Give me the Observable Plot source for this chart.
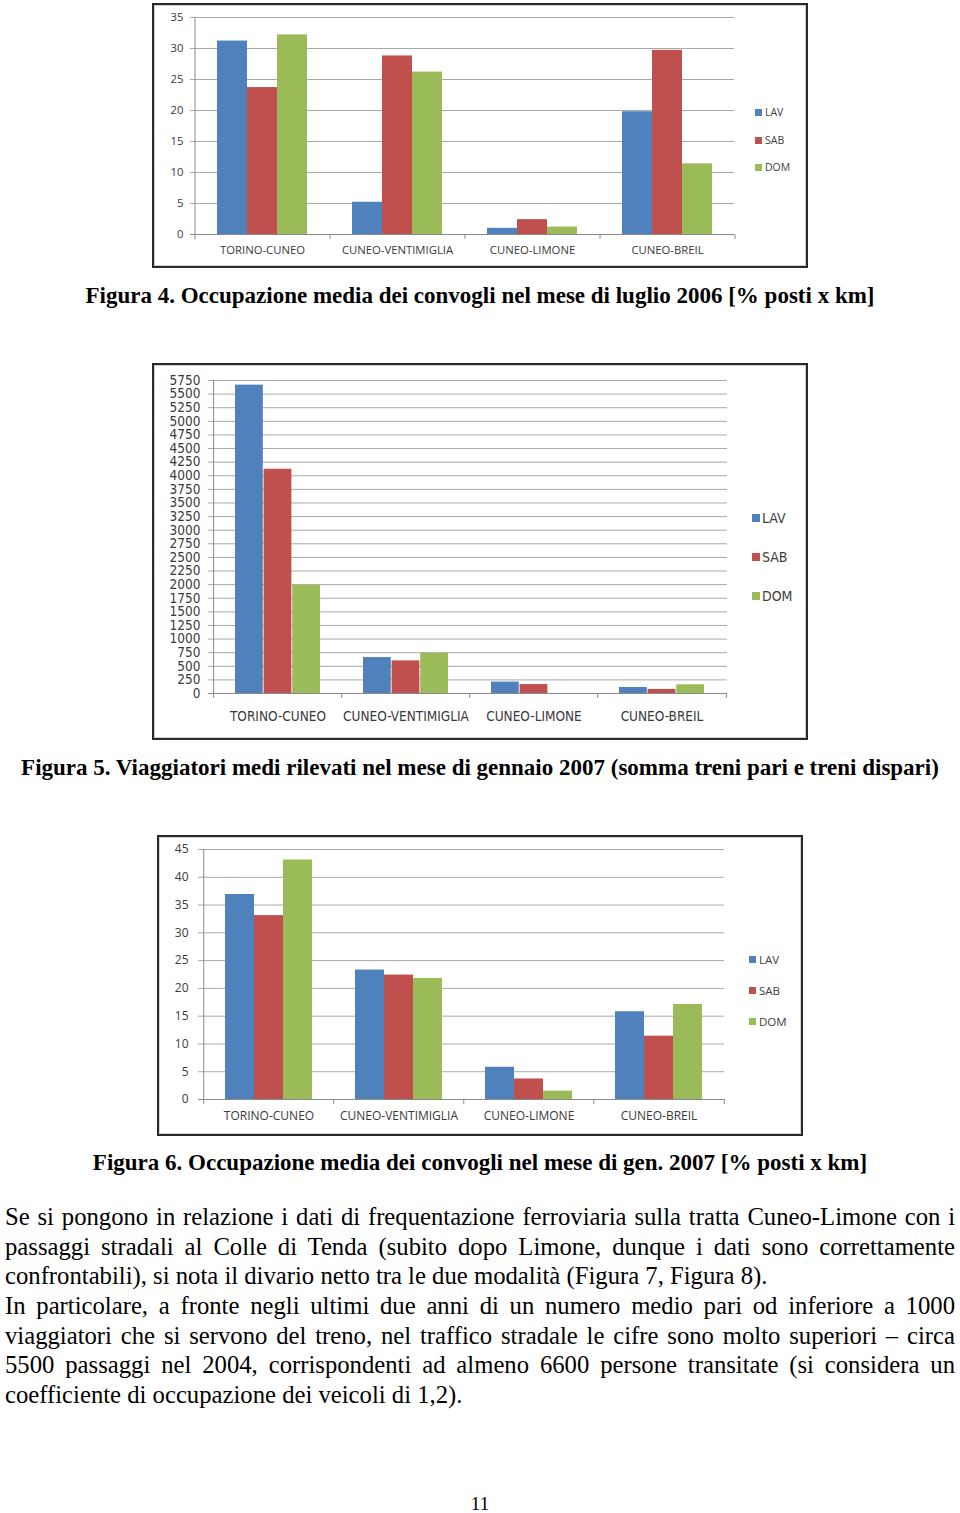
<!DOCTYPE html>
<html>
<head>
<meta charset="utf-8">
<script src="https://cdn.jsdelivr.net/npm/d3@7"></script>
<script src="https://cdn.jsdelivr.net/npm/@observablehq/plot@0.6"></script>
<style>
  body { margin: 0; background: #fff; }
  #page { position: relative; width: 960px; height: 1513px; overflow: hidden; background: #fff; }
  .frame { position: absolute; border: 2px solid #2a2a2a; box-sizing: border-box; pointer-events: none; box-shadow: inset 0 0 0 1px #d0d0d0; }
  .chart { position: absolute; }
  .chart svg { display: block; }
  .caption { position: absolute; left: 0; width: 960px; text-align: center; font-family: "Liberation Serif", "Times New Roman", serif; font-weight: bold; font-size: 23px; color: #000; white-space: nowrap; line-height: 24px; }
  .legend { position: absolute; color: #404040; white-space: nowrap; }
  .legend .item { position: absolute; left: 0; display: flex; align-items: center; }
  .legend .sw { display: inline-block; }
  .para { position: absolute; left: 5px; width: 950px; font-family: "Liberation Serif", "Times New Roman", serif; font-size: 24.7px; line-height: 29.5px; text-align: justify; color: #000; margin: 0; }
  .pnum { position: absolute; left: 0; width: 960px; text-align: center; top: 1494px; line-height: 20px; font-family: "Liberation Serif", serif; font-size: 19px; }
</style>
</head>
<body>
<div id="page"></div>
<script>
// ---------- data ----------
const routes = ["TORINO-CUNEO", "CUNEO-VENTIMIGLIA", "CUNEO-LIMONE", "CUNEO-BREIL"];
const seriesNames = ["LAV", "SAB", "DOM"];
const seriesColors = ["#4F81BD", "#C0504D", "#9BBB59"];

// Figura 4 – occupazione media luglio 2006 [% posti x km]
const fig4LAV = [31.2, 5.2, 1.0, 19.8];
const fig4SAB = [23.7, 28.8, 2.4, 29.7];
const fig4DOM = [32.2, 26.2, 1.2, 11.4];
const fig4Ticks = [0, 5, 10, 15, 20, 25, 30, 35];

// Figura 5 – viaggiatori medi gennaio 2007
const fig5LAV = [5665, 660, 210, 110];
const fig5SAB = [4120, 600, 165, 75];
const fig5DOM = [1990, 740, 0, 160];
const fig5Ticks = [0, 250, 500, 750, 1000, 1250, 1500, 1750, 2000, 2250, 2500, 2750, 3000,
                   3250, 3500, 3750, 4000, 4250, 4500, 4750, 5000, 5250, 5500, 5750];

// Figura 6 – occupazione media gennaio 2007 [% posti x km]
const fig6LAV = [36.9, 23.3, 5.8, 15.8];
const fig6SAB = [33.1, 22.4, 3.7, 11.4];
const fig6DOM = [43.1, 21.8, 1.5, 17.1];
const fig6Ticks = [0, 5, 10, 15, 20, 25, 30, 35, 40, 45];

const captions = [
  "Figura 4. Occupazione media dei convogli nel mese di luglio 2006 [% posti x km]",
  "Figura 5. Viaggiatori medi rilevati nel mese di gennaio 2007 (somma treni pari e treni dispari)",
  "Figura 6. Occupazione media dei convogli nel mese di gen. 2007 [% posti x km]"
];
const paragraphs = [
  "Se si pongono in relazione i dati di frequentazione ferroviaria sulla tratta Cuneo-Limone con i passaggi stradali al Colle di Tenda (subito dopo Limone, dunque i dati sono correttamente confrontabili), si nota il divario netto tra le due modalità (Figura 7, Figura 8).",
  "In particolare, a fronte negli ultimi due anni di un numero medio pari od inferiore a 1000 viaggiatori che si servono del treno, nel traffico stradale le cifre sono molto superiori – circa 5500 passaggi nel 2004, corrispondenti ad almeno 6600 persone transitate (si considera un coefficiente di occupazione dei veicoli di 1,2)."
];
const pageNumber = "11";

// ---------- drawing ----------
const page = document.getElementById("page");

function drawChart(cfg) {
  const rows = [];
  cfg.values.forEach((vals, s) =>
    vals.forEach((v, i) => rows.push({route: routes[i], series: seriesNames[s], value: v})));
  const pi = 1 / 3, po = 1 / 6;
  const plotW = cfg.width - cfg.ml - cfg.mr;
  const step = plotW / (routes.length - pi + 2 * po);
  const bw = step * (1 - pi);
  const sub = bw / seriesNames.length;
  const maxY = cfg.ticks[cfg.ticks.length - 1];

  const marks = [
    Plot.ruleY(cfg.ticks, {stroke: "#a9a9a9", strokeWidth: 1, insetLeft: -4}),
    Plot.ruleY([0], {stroke: "#8a8a8a", strokeWidth: 1, insetLeft: -4}),
    Plot.ruleX([routes[0]], {dx: -step / 2, y1: maxY, y2: 0, insetBottom: -5, stroke: "#8a8a8a"}),
    Plot.ruleX(routes.slice(1), {dx: -step / 2, y1: 0, y2: 0, insetBottom: -5, stroke: "#8a8a8a"}),
    Plot.ruleX([routes[routes.length - 1]], {dx: step / 2, y1: 0, y2: 0, insetBottom: -5, stroke: "#8a8a8a"})
  ];
  seriesNames.forEach((s, k) => {
    marks.push(Plot.barY(rows.filter(d => d.series === s), {
      x: "route", y: "value", fill: "series",
      insetLeft: k * sub, insetRight: (seriesNames.length - 1 - k) * sub
    }));
  });

  const svg = Plot.plot({
    width: cfg.width, height: cfg.height,
    marginLeft: cfg.ml, marginRight: cfg.mr, marginTop: cfg.mt, marginBottom: cfg.mb,
    style: {fontFamily: cfg.font, fontSize: cfg.fontSize + "px", color: "#3a3a3a", background: "transparent", overflow: "visible"},
    x: {domain: routes, paddingInner: pi, paddingOuter: po, tickSize: 0, tickPadding: cfg.xPad, label: null},
    y: {domain: [0, maxY], ticks: cfg.ticks, tickSize: 0, tickPadding: cfg.yPad, label: null, tickFormat: d => String(d)},
    color: {domain: seriesNames, range: seriesColors},
    marks
  });

  const holder = document.createElement("div");
  holder.className = "chart";
  holder.style.left = cfg.left + "px";
  holder.style.top = cfg.top + "px";
  holder.appendChild(svg);
  page.appendChild(holder);

  const frame = document.createElement("div");
  frame.className = "frame";
  frame.style.left = cfg.left + "px";
  frame.style.top = cfg.top + "px";
  frame.style.width = cfg.width + "px";
  frame.style.height = cfg.height + "px";
  page.appendChild(frame);

  const lg = document.createElement("div");
  lg.className = "legend";
  lg.style.left = cfg.legend.x + "px";
  lg.style.top = "0px";
  lg.style.fontFamily = cfg.font;
  lg.style.fontSize = cfg.legend.fontSize + "px";
  seriesNames.forEach((s, k) => {
    const it = document.createElement("div");
    it.className = "item";
    it.style.top = (cfg.legend.ys[k] - 10) + "px";
    it.style.height = "20px";
    const sw = document.createElement("span");
    sw.className = "sw";
    sw.style.width = cfg.legend.sw + "px";
    sw.style.height = cfg.legend.sw + "px";
    sw.style.background = seriesColors[k];
    sw.style.marginRight = cfg.legend.gap + "px";
    it.appendChild(sw);
    it.appendChild(document.createTextNode(s));
    lg.appendChild(it);
  });
  page.appendChild(lg);
}

function caption(text, y) {
  const c = document.createElement("div");
  c.className = "caption";
  c.style.top = (y - 12) + "px";
  c.textContent = text;
  page.appendChild(c);
}

drawChart({
  left: 152, top: 3, width: 656, height: 265, ml: 42, mr: 74, mt: 14, mb: 34,
  values: [fig4LAV, fig4SAB, fig4DOM], ticks: fig4Ticks,
  font: "'Open Sans', 'DejaVu Sans', sans-serif", fontSize: 11.3, xPad: 11, yPad: 11,
  legend: {x: 755, ys: [112, 140, 167], fontSize: 10.5, sw: 7, gap: 3}
});
caption(captions[0], 296);

drawChart({
  left: 152, top: 363, width: 656, height: 377, ml: 60, mr: 81, mt: 17, mb: 47,
  values: [fig5LAV, fig5SAB, fig5DOM], ticks: fig5Ticks,
  font: "'Liberation Sans Narrow', 'DejaVu Sans Condensed', 'Arial Narrow', sans-serif", fontSize: 13.5, xPad: 18, yPad: 12,
  legend: {x: 752, ys: [518, 557, 596], fontSize: 14, sw: 8, gap: 2}
});
caption(captions[1], 768);

drawChart({
  left: 157, top: 835, width: 646, height: 301, ml: 45, mr: 79, mt: 14, mb: 37,
  values: [fig6LAV, fig6SAB, fig6DOM], ticks: fig6Ticks,
  font: "'Open Sans', 'DejaVu Sans', sans-serif", fontSize: 12, xPad: 12, yPad: 14,
  legend: {x: 749, ys: [959, 990, 1021], fontSize: 11.5, sw: 7, gap: 3}
});
caption(captions[2], 1163);

paragraphs.forEach((t, i) => {
  const p = document.createElement("p");
  p.className = "para";
  p.style.top = (i === 0 ? 1202 : 1291) + "px";
  p.textContent = t;
  page.appendChild(p);
});
const pn = document.createElement("div");
pn.className = "pnum";
pn.textContent = pageNumber;
page.appendChild(pn);
</script>
</body>
</html>
